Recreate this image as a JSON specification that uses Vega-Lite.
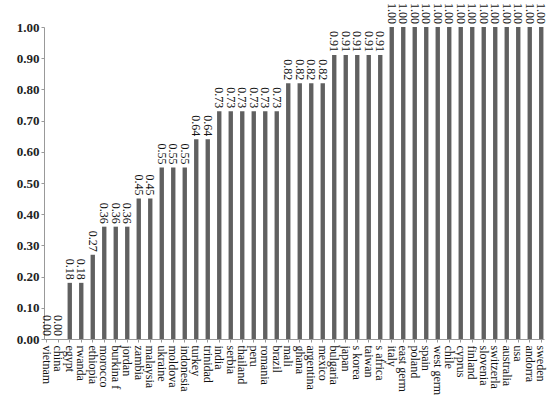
{
  "$schema": "https://vega.github.io/schema/vega-lite/v6.json",
  "width": 500,
  "height": 312,
  "autosize": {"type": "none"},
  "padding": {"left": 44, "top": 27, "right": 10, "bottom": 57},
  "background": "white",
  "config": {"view": {"stroke": null}},
  "data": {
    "values": [
      {"country": "vietnam", "value": 0.0},
      {"country": "china", "value": 0.0},
      {"country": "egypt", "value": 0.18},
      {"country": "rwanda", "value": 0.18},
      {"country": "ethiopia", "value": 0.27},
      {"country": "morocco", "value": 0.36},
      {"country": "burkina f", "value": 0.36},
      {"country": "jordan", "value": 0.36},
      {"country": "zambia", "value": 0.45},
      {"country": "malaysia", "value": 0.45},
      {"country": "ukraine", "value": 0.55},
      {"country": "moldova", "value": 0.55},
      {"country": "indonesia", "value": 0.55},
      {"country": "turkey", "value": 0.64},
      {"country": "trinidad", "value": 0.64},
      {"country": "india", "value": 0.73},
      {"country": "serbia", "value": 0.73},
      {"country": "thailand", "value": 0.73},
      {"country": "peru", "value": 0.73},
      {"country": "romania", "value": 0.73},
      {"country": "brazil", "value": 0.73},
      {"country": "mali", "value": 0.82},
      {"country": "ghana", "value": 0.82},
      {"country": "argentina", "value": 0.82},
      {"country": "mexico", "value": 0.82},
      {"country": "bulgaria", "value": 0.91},
      {"country": "japan", "value": 0.91},
      {"country": "s korea", "value": 0.91},
      {"country": "taiwan", "value": 0.91},
      {"country": "s africa", "value": 0.91},
      {"country": "italy", "value": 1.0},
      {"country": "east germ", "value": 1.0},
      {"country": "poland", "value": 1.0},
      {"country": "spain", "value": 1.0},
      {"country": "west germ", "value": 1.0},
      {"country": "chile", "value": 1.0},
      {"country": "cyprus", "value": 1.0},
      {"country": "finland", "value": 1.0},
      {"country": "slovenia", "value": 1.0},
      {"country": "switzerla", "value": 1.0},
      {"country": "australia", "value": 1.0},
      {"country": "usa", "value": 1.0},
      {"country": "andorra", "value": 1.0},
      {"country": "sweden", "value": 1.0}
    ]
  },
  "encoding": {
    "x": {
      "field": "country",
      "type": "nominal",
      "sort": null,
      "scale": {"paddingInner": 0.62, "paddingOuter": 0.05},
      "axis": {
        "title": null,
        "labelAngle": 90,
        "labelAlign": "left",
        "labelBaseline": "middle",
        "labelFont": "'Liberation Serif', 'DejaVu Serif', serif",
        "labelFontSize": 12,
        "labelColor": "#111",
        "labelPadding": 3,
        "tickSize": 3,
        "tickColor": "#999",
        "domainColor": "#999"
      }
    },
    "y": {
      "field": "value",
      "type": "quantitative",
      "scale": {"domain": [0, 1], "nice": false},
      "axis": {
        "title": null,
        "values": [0, 0.1, 0.2, 0.3, 0.4, 0.5, 0.6, 0.7, 0.8, 0.9, 1.0],
        "format": ".2f",
        "grid": false,
        "labelFont": "'Liberation Serif', 'DejaVu Serif', serif",
        "labelFontSize": 13,
        "labelFontWeight": "bold",
        "labelColor": "#222",
        "labelPadding": 2,
        "tickSize": 3,
        "tickColor": "#999",
        "domainColor": "#999"
      }
    }
  },
  "layer": [
    {"mark": {"type": "bar", "color": "#606060"}},
    {
      "mark": {
        "type": "text",
        "angle": 90,
        "align": "right",
        "baseline": "middle",
        "dx": -3,
        "font": "'Liberation Serif', 'DejaVu Serif', serif",
        "fontSize": 12,
        "color": "#111"
      },
      "encoding": {"text": {"field": "value", "type": "quantitative", "format": ".2f"}}
    }
  ]
}
